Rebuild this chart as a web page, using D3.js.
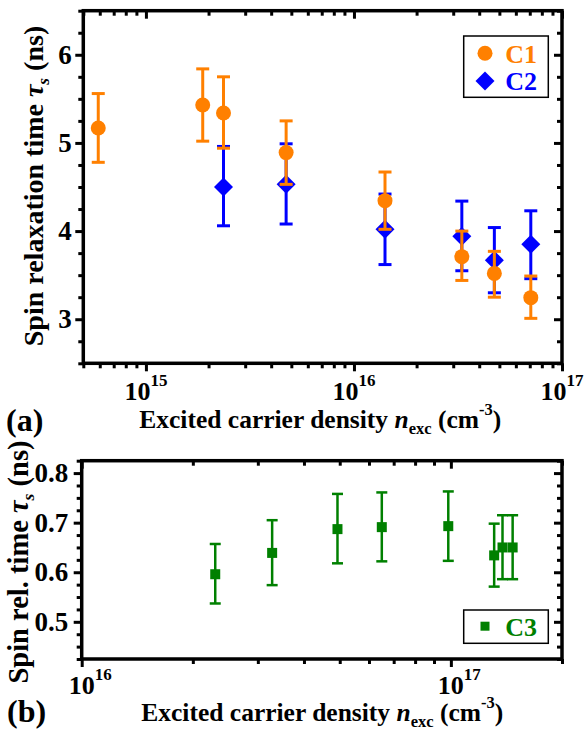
<!DOCTYPE html>
<html>
<head>
<meta charset="utf-8">
<script src="https://cdn.jsdelivr.net/npm/d3@7"></script>
<style>
body {margin: 0; background: #fff;}
text {font-family: "Liberation Serif", "Times New Roman", serif; font-weight: bold;}
</style>
</head>
<body>
<svg id="chart" width="586" height="730"></svg>
<script>
// panel (a) data, C1 and C2
let densC1 = [5.9e14, 1.875e15, 2.36e15, 4.72e15, 1.41e16, 3.30e16, 4.73e16, 7.08e16]
let tauC1 = [5.17, 5.43, 5.34, 4.89, 4.345, 3.71, 3.52, 3.245]
let loC1 = [4.78, 5.02, 4.94, 4.53, 4.02, 3.44, 3.25, 3.01]
let hiC1 = [5.56, 5.84, 5.75, 5.25, 4.67, 4.00, 3.77, 3.49]

let densC2 = [2.36e15, 4.72e15, 1.41e16, 3.30e16, 4.73e16, 7.08e16]
let tauC2 = [4.50, 4.53, 4.02, 3.94, 3.67, 3.85]
let loC2 = [4.06, 4.08, 3.62, 3.55, 3.30, 3.46]
let hiC2 = [4.96, 4.99, 4.42, 4.34, 4.04, 4.23]

// panel (b) data, C3
let densC3 = [2.30e16, 3.28e16, 4.93e16, 6.5e16, 9.84e16, 1.31e17, 1.38e17, 1.47e17]
let tauC3 = [0.596, 0.639, 0.687, 0.691, 0.693, 0.634, 0.650, 0.650]
let loC3 = [0.537, 0.574, 0.618, 0.622, 0.623, 0.571, 0.586, 0.586]
let hiC3 = [0.657, 0.705, 0.758, 0.761, 0.763, 0.698, 0.715, 0.715]

// tick labels
let yLabelsA = [3, 4, 5, 6]
let yLabelsB = [0.5, 0.6, 0.7, 0.8]
let xLabelsA = [1e15, 1e16, 1e17]
let xLabelsB = [1e16, 1e17]

let orange = "#ff8000", blue = "#0000ff", green = "#008000"

let svg = d3.select("#chart")

function makePanel(left, top, w, h, xDom, yDom) {
	let g = svg.append("g").attr("transform", "translate(" + left + "," + top + ")")
	let x = d3.scaleLog().domain(xDom).range([0, w])
	let y = d3.scaleLinear().domain(yDom).range([h, 0])
	return {g: g, x: x, y: y, w: w, h: h}
}

// minor log ticks (2..9 in each decade) inside the domain
function logMinor(dom) {
	let out = []
	for (let e = Math.floor(Math.log10(dom[0])); e <= Math.ceil(Math.log10(dom[1])); e++) {
		for (let k = 1; k <= 9; k++) {
			let v = k * Math.pow(10, e)
			if (v >= dom[0] * 0.999 && v <= dom[1] * 1.001) out.push(v)
		}
	}
	return out
}

function linTicks(dom, step) {
	let out = []
	let n = Math.round((dom[1] - dom[0]) / step)
	for (let i = 0; i <= n; i++) out.push(+(dom[0] + i * step).toFixed(4))
	return out
}

function drawTicks(p, xMajor, xMinor, yMajor, yMinor) {
	let sides = [
		[d3.axisBottom(p.x), "translate(0," + p.h + ")", xMajor, xMinor],
		[d3.axisBottom(p.x), "translate(0,0)", xMajor, xMinor],
		[d3.axisLeft(p.y), "translate(0,0)", yMajor, yMinor],
		[d3.axisLeft(p.y), "translate(" + p.w + ",0)", yMajor, yMinor]
	]
	sides.forEach(s => {
		let minorOnly = s[3].filter(v => !s[2].some(m => Math.abs(m - v) / m < 1e-6))
		p.g.append("g").attr("transform", s[1])
			.call(s[0].tickValues(minorOnly).tickSize(5).tickFormat(""))
			.call(a => a.select(".domain").remove())
		p.g.append("g").attr("transform", s[1])
			.call(s[0].tickValues(s[2]).tickSize(8).tickFormat(""))
			.call(a => a.select(".domain").remove())
	})
	p.g.selectAll(".tick line").attr("stroke", "#000").attr("stroke-width", 3)
	p.g.append("rect")
		.attr("width", p.w).attr("height", p.h)
		.attr("fill", "none").attr("stroke", "#000").attr("stroke-width", 3.5)
}

function yLabels(p, vals, gap, fmt) {
	p.g.selectAll(null).data(vals).enter().append("text")
		.attr("x", -gap)
		.attr("y", d => p.y(d) + 9)
		.attr("text-anchor", "end")
		.style("font-size", "27px")
		.text(fmt)
}

function xLabels(p, vals, baseY, shift) {
	vals.forEach(v => {
		let t = p.g.append("text")
			.attr("x", p.x(v) + shift)
			.attr("y", baseY)
			.attr("text-anchor", shift === 0 ? "middle" : "start")
			.style("font-size", "26px")
		t.append("tspan").text("10")
		t.append("tspan").attr("dy", -14).style("font-size", "17px").text(Math.round(Math.log10(v)))
	})
}

function errorBars(p, xs, vals, lo, hi, color, cap, lw) {
	let g = p.g.append("g")
	g.selectAll(null).data(xs).enter().append("line")
		.attr("x1", d => p.x(d)).attr("x2", d => p.x(d))
		.attr("y1", (d, i) => p.y(lo[i])).attr("y2", (d, i) => p.y(hi[i]))
		.attr("stroke", color).attr("stroke-width", lw)
	;[lo, hi].forEach(arr => {
		g.selectAll(null).data(xs).enter().append("line")
			.attr("x1", d => p.x(d) - cap / 2).attr("x2", d => p.x(d) + cap / 2)
			.attr("y1", (d, i) => p.y(arr[i])).attr("y2", (d, i) => p.y(arr[i]))
			.attr("stroke", color).attr("stroke-width", lw)
	})
}

function xTitle(x0, yb) {
	let t = svg.append("text").attr("x", x0).attr("y", yb).style("font-size", "25.5px")
	t.append("tspan").text("Excited carrier density ")
	t.append("tspan").style("font-style", "italic").text("n")
	t.append("tspan").attr("dy", 6).style("font-size", "16.5px").text("exc")
	t.append("tspan").attr("dy", -6).text(" (cm")
	t.append("tspan").attr("dy", -13).style("font-size", "16.5px").text("-3")
	t.append("tspan").attr("dy", 13).text(")")
}

function yTitle(xb, yc, label, size) {
	let t = svg.append("text")
		.attr("transform", "translate(" + xb + "," + yc + ") rotate(-90)")
		.attr("text-anchor", "middle")
		.style("font-size", size + "px")
	t.append("tspan").text(label + " ")
	t.append("tspan").style("font-style", "italic").text("\u03c4")
	t.append("tspan").attr("dy", 6).style("font-size", (size * 0.62) + "px").style("font-style", "italic").text("s")
	t.append("tspan").attr("dy", -6).text(" (ns)")
}

//Panel (a)
let pa = makePanel(83.3, 10.7, 478.7, 352.6, [5e14, 1e17], [2.5, 6.5])
drawTicks(pa, xLabelsA, logMinor([5e14, 1e17]), yLabelsA, linTicks([2.5, 6.5], 0.25))
yLabels(pa, yLabelsA, 11.6, d => d)
xLabels(pa, xLabelsA, 389.3, 0)

errorBars(pa, densC2, tauC2, loC2, hiC2, blue, 13, 3)
pa.g.append("g").selectAll("path").data(densC2).enter().append("path")
	.attr("d", d3.symbol(d3.symbolSquare, 180))
	.attr("transform", (d, i) => "translate(" + pa.x(d) + "," + pa.y(tauC2[i]) + ") rotate(45)")
	.attr("fill", blue)

errorBars(pa, densC1, tauC1, loC1, hiC1, orange, 13, 3)
pa.g.append("g").selectAll("circle").data(densC1).enter().append("circle")
	.attr("cx", d => pa.x(d))
	.attr("cy", (d, i) => pa.y(tauC1[i]))
	.attr("r", 7.5)
	.attr("fill", orange)

// legend (a)
let legA = pa.g.append("g").attr("transform", "translate(380.4,25.3)")
legA.append("rect").attr("width", 84.6).attr("height", 61.3)
	.attr("fill", "#fff").attr("stroke", "#000").attr("stroke-width", 1.5)
legA.append("circle").attr("cx", 21.3).attr("cy", 17.3).attr("r", 7.5).attr("fill", orange)
legA.append("text").attr("x", 41.5).attr("y", 26.5).style("font-size", "26px").style("fill", orange).text("C1")
legA.append("path").attr("d", d3.symbol(d3.symbolSquare, 180))
	.attr("transform", "translate(21.3,45) rotate(45)").attr("fill", blue)
legA.append("text").attr("x", 41.5).attr("y", 54.2).style("font-size", "26px").style("fill", blue).text("C2")

xTitle(139.3, 428.3)
yTitle(42.5, 186, "Spin relaxation time", 28)
svg.append("text").attr("x", 6).attr("y", 431).style("font-size", "32px").text("(a)")

//Panel (b)
let pb = makePanel(81.7, 460.7, 480.3, 198.3, [1e16, 2e17], [0.425, 0.825])
drawTicks(pb, xLabelsB, logMinor([1e16, 2e17]), yLabelsB, linTicks([0.425, 0.825], 0.025))
yLabels(pb, yLabelsB, 13.4, d => d.toFixed(1))
xLabels(pb, xLabelsB, 233, -13)

errorBars(pb, densC3, tauC3, loC3, hiC3, green, 11, 2.5)
pb.g.append("g").selectAll("rect").data(densC3).enter().append("rect")
	.attr("x", d => pb.x(d) - 5)
	.attr("y", (d, i) => pb.y(tauC3[i]) - 5)
	.attr("width", 10).attr("height", 10)
	.attr("fill", green)

// legend (b)
let legB = pb.g.append("g").attr("transform", "translate(382,149.3)")
legB.append("rect").attr("width", 84.6).attr("height", 33.3)
	.attr("fill", "#fff").attr("stroke", "#000").attr("stroke-width", 1.5)
legB.append("rect").attr("x", 16.8).attr("y", 11.7).attr("width", 9).attr("height", 9).attr("fill", green)
legB.append("text").attr("x", 41.5).attr("y", 25.5).style("font-size", "26px").style("fill", green).text("C3")

xTitle(141.3, 721)
yTitle(27.5, 562, "Spin rel. time", 28.5)
svg.append("text").attr("x", 7).attr("y", 722).style("font-size", "32px").text("(b)")
</script>
</body>
</html>
